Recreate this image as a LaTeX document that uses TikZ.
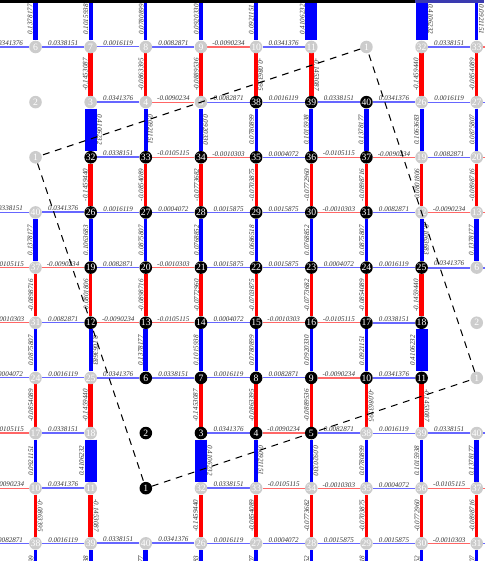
\documentclass[tikz,border=0pt]{standalone}
\usepackage{fontspec}
\setmainfont{Liberation Serif}
\usepackage{tikz}
\usetikzlibrary{backgrounds}
\definecolor{posBlue}{RGB}{0,0,255}
\definecolor{negRed}{RGB}{255,0,0}
\definecolor{ghostGray}{RGB}{204,204,204}
\definecolor{bandBlue}{RGB}{58,58,176}

% coupling to the right neighbour
\foreach \k/\v in {3/0.0341376,4/-0.0090234,5/0.0082871,
  6/0.0338151,7/0.0016119,8/0.0082871,9/-0.0090234,10/0.0341376,
  12/-0.0090234,13/-0.0105115,14/0.0004072,15/-0.0010303,16/-0.0105115,17/0.0338151,
  19/0.0082871,20/-0.0010303,21/0.0015875,22/0.0015875,23/0.0004072,24/0.0016119,25/0.0341376,
  26/0.0016119,27/0.0004072,28/0.0015875,29/0.0015875,30/-0.0010303,31/0.0082871,
  32/0.0338151,33/-0.0105115,34/-0.0010303,35/0.0004072,36/-0.0105115,37/-0.0090234,
  38/0.0016119,39/0.0338151,40/0.0341376}
  {\expandafter\xdef\csname hw\k\endcsname{\v}}

% coupling to the lower neighbour
\foreach \k/\v in {3/0.4106232,4/0.0921151,5/0.0920330,
  7/-0.1453087,8/-0.0863395,9/-0.0889536,10/-0.0863395,11/-0.1453087,
  12/0.1063683,13/0.1378177,14/0.1015938,15/0.0780899,16/0.0920330,17/0.0921151,18/0.4106232,
  19/-0.0801806,20/-0.0898716,21/-0.0772960,22/-0.0703875,23/-0.0773682,24/-0.0854089,25/-0.1459440,
  26/0.1063683,27/0.0875807,28/0.0768852,29/0.0686518,30/0.0768852,31/0.0875807,
  32/-0.1459440,33/-0.0854089,34/-0.0773682,35/-0.0703875,36/-0.0772960,37/-0.0898716,
  38/0.0780899,39/0.1015938,40/0.1378177}
  {\expandafter\xdef\csname vw\k\endcsname{\v}}

% where each site of the unit cell sits (column-row)
\foreach \k/\c/\r in {1/3/9,2/3/8,3/4/8,4/5/8,5/6/8,
  6/3/7,7/4/7,8/5/7,9/6/7,10/7/7,11/8/7,
  12/2/6,13/3/6,14/4/6,15/5/6,16/6/6,17/7/6,18/8/6,
  19/2/5,20/3/5,21/4/5,22/5/5,23/6/5,24/7/5,25/8/5,
  26/2/4,27/3/4,28/4/4,29/5/4,30/6/4,31/7/4,
  32/2/3,33/3/3,34/4/3,35/5/3,36/6/3,37/7/3,
  38/5/2,39/6/2,40/7/2}
  {\expandafter\xdef\csname home\k\endcsname{\c-\r}}

\begin{document}
\begin{tikzpicture}[x=2cm,y=-2cm,
  cellnode/.style={circle,fill=black,text=white,inner sep=0pt,minimum size=13pt,
    font=\fontsize{10}{10}\selectfont},
  ghostnode/.style={cellnode,fill=ghostGray},
  wlabel/.style={font=\fontsize{7.3}{8}\selectfont\itshape,text=black!80,
    inner sep=0.6pt,anchor=south},
  cellborder/.style={dash pattern=on 7pt off 6pt,line width=1.1pt}]
\useasboundingbox (-0.644,-0.852) rectangle (8.132,9.320);
\clip (-0.644,-0.852) rectangle (8.132,9.320);

% lattice sites, periodic copies in gray
\foreach \row [count=\r from 0] in {
  {12,13,14,15,16,17,18,2,3,4,5},
  {25,6,7,8,9,10,11,1,32,33,34},
  {18,2,3,4,5,38,39,40,26,27,28},
  {11,1,32,33,34,35,36,37,19,20,21},
  {39,40,26,27,28,29,30,31,12,13,14},
  {36,37,19,20,21,22,23,24,25,6,7},
  {30,31,12,13,14,15,16,17,18,2,3},
  {23,24,25,6,7,8,9,10,11,1,32},
  {16,17,18,2,3,4,5,38,39,40,26},
  {9,10,11,1,32,33,34,35,36,37,19},
  {5,38,39,40,26,27,28,29,30,31,12},
  {34,35,36,37,19,20,21,22,23,24,25}}{
  \foreach \k [count=\c from 0] in \row {
    \expandafter\xdef\csname site\c-\r\endcsname{\k}
    \edef\here{\c-\r}
    \edef\home{\csname home\k\endcsname}
    \ifx\here\home
      \node[cellnode] (s\c-\r) at (\c-1,\r-1) {\k};
    \else
      \node[ghostnode] (s\c-\r) at (\c-1,\r-1) {\k};
    \fi
  }
}

% couplings
\begin{pgfonlayer}{background}
\foreach \c in {0,...,10}{
  \foreach \r in {0,...,11}{
    \edef\k{\csname site\c-\r\endcsname}
    \ifnum\c<10
      \expandafter\ifx\csname hw\k\endcsname\relax\else
        \pgfmathtruncatemacro\cc{\c+1}
        \edef\w{\csname hw\k\endcsname}
        \pgfmathsetmacro\lw{1+28*abs(\w)}
        \ifdim\w pt<0pt \def\col{negRed!60}\else\def\col{posBlue!60}\fi
        \draw[color=\col,line width=\lw pt] (s\c-\r) -- node[wlabel]{\w} (s\cc-\r);
      \fi
    \fi
    \ifnum\r<11
      \expandafter\ifx\csname vw\k\endcsname\relax\else
        \pgfmathtruncatemacro\rr{\r+1}
        \edef\w{\csname vw\k\endcsname}
        \edef\kb{\csname site\c-\rr\endcsname}
        \pgfmathsetmacro\lw{1+28*abs(\w)}
        \ifdim\w pt<0pt \def\col{negRed}\else\def\col{posBlue}\fi
        \ifnum\kb<\k \def\rot{90}\else\def\rot{-90}\fi
        \draw[color=\col,line width=\lw pt] (s\c-\r) -- node[wlabel,rotate=\rot]{\w} (s\c-\rr);
      \fi
    \fi
  }
}
\end{pgfonlayer}

% unit cell
\foreach \a/\b in {s3-9/s9-7,s9-7/s7-1,s7-1/s1-3,s1-3/s3-9}
  \draw[cellborder] (\a) -- (\b);

% band along the top edge
\fill (-0.644,-0.852) rectangle (6.881,-0.798);
\fill[bandBlue] (6.881,-0.852) rectangle (8.132,-0.798);
\end{tikzpicture}
\end{document}
